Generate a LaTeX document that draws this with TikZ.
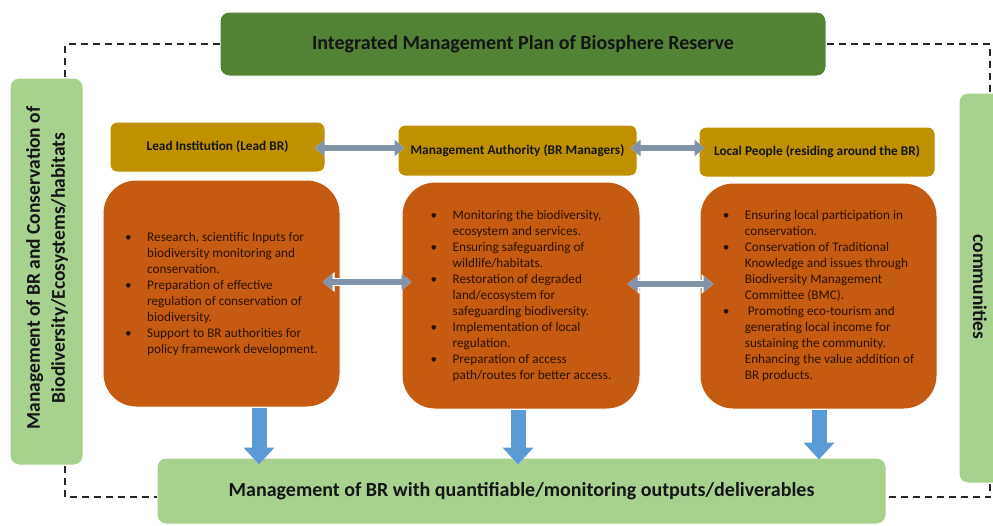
\documentclass[tikz,border=0pt]{standalone}
\usepackage{fontspec}
\setmainfont{Carlito}
\usetikzlibrary{arrows.meta}
\definecolor{titlegreen}{HTML}{548235}
\definecolor{lightgreen}{HTML}{A9D18E}
\definecolor{goldhead}{HTML}{BF9000}
\definecolor{rust}{HTML}{C55A11}
\definecolor{arrowgray}{HTML}{8093A8}
\definecolor{arrowblue}{HTML}{5B9BD5}
\definecolor{txtdark}{HTML}{2B1500}
\definecolor{txtblack}{HTML}{151515}
\newcommand{\bul}{\makebox[22pt][l]{\textbullet}}
\newcommand{\ind}{\hspace*{22pt}}
\begin{document}
\begin{tikzpicture}[x=1pt,y=-1pt,
  box/.style={draw=white, line width=1pt, inner sep=0pt, text=txtblack},
  titlebox/.style={box, fill=titlegreen, rounded corners=9pt, font=\fontsize{20}{24}\selectfont\bfseries},
  sidebox/.style={box, fill=lightgreen, rounded corners=9pt},
  sidefont/.style={font=\fontsize{19.5}{25}\selectfont\bfseries, align=center, text=txtblack},
  headbox/.style={box, fill=goldhead, rounded corners=7pt, font=\fontsize{13.3}{16}\selectfont\bfseries},
  orangebox/.style={box, fill=rust, rounded corners=33pt, text=txtdark, align=left,
     font=\fontsize{13.2}{16}\selectfont},
  dashline/.style={draw=black!85, line width=1.8pt, dash pattern=on 7pt off 5pt},
  grayarr/.style={draw=arrowgray, line width=6pt,
     {Triangle[width=16pt,length=10pt]}-{Triangle[width=16pt,length=10pt]},
     preaction={draw=white, line width=8pt, {Triangle[width=19pt,length=12pt]}-{Triangle[width=19pt,length=12pt]}}},
  bluearr/.style={draw=arrowblue, line width=15pt, -{Triangle[width=30pt,length=17pt]},
     preaction={draw=white, line width=17pt, -{Triangle[width=34pt,length=19pt]}}}
]
\useasboundingbox (0,0) rectangle (993,525);

% main boxes
\node[titlebox, minimum width=606pt, minimum height=64pt] (title) at (523,44)
  {Integrated Management Plan of Biosphere Reserve};
\node[sidebox, minimum width=73pt, minimum height=387pt] (leftbox) at (46.5,271.5) {};
\node[sidefont, rotate=90] (lefttext) at (47,268)
  {Management of BR and Conservation of\\Biodiversity/Ecosystems/habitats};
\node[sidebox, minimum width=46pt, minimum height=390pt] (rightbox) at (982,288) {};
\node[sidefont, rotate=-90] (righttext) at (980,287) {communities};
\node[sidebox, font=\fontsize{20}{24}\selectfont\bfseries, text=txtblack,
  minimum width=729pt, minimum height=66pt] (bottom) at (521.5,491)
  {Management of BR with quantifiable/monitoring outputs/deliverables};

% dashed frame
\coordinate (dTL) at (65,44);
\coordinate (dTR) at (990,44);
\coordinate (dBL) at (65,497);
\coordinate (dBR) at (990,497);
\draw[dashline] (title.west) -- (dTL) -- (dTL |- leftbox.north);
\draw[dashline] (title.east) -- (dTR) -- (dTR |- rightbox.north);
\draw[dashline] (dBL |- leftbox.south) -- (dBL) -- (bottom.west |- dBL);
\draw[dashline] (dBR |- rightbox.south) -- (dBR) -- (bottom.east |- dBR);

% header boxes
\node[headbox, minimum width=215pt, minimum height=50pt] (lead) at (217.5,147) {Lead Institution (Lead BR)};
\node[headbox, minimum width=239pt, minimum height=51pt] (mgmt) at (517.5,150.5) {Management Authority (BR Managers)};
\node[headbox, minimum width=236pt, minimum height=50pt] (local) at (817,152) {Local People (residing around the BR)};

% orange boxes
\node[orangebox, minimum width=237pt, minimum height=227pt] (lo) at (221.5,293.5) {%
\bul Research, scientific Inputs for\\
\ind biodiversity monitoring and\\
\ind conservation.\\
\bul Preparation of effective\\
\ind regulation of conservation of\\
\ind biodiversity.\\
\bul Support to BR authorities for\\
\ind policy framework development.};
\node[orangebox, minimum width=238pt, minimum height=227pt] (mo) at (521,295.5) {%
\bul Monitoring the biodiversity,\\
\ind ecosystem and services.\\
\bul Ensuring safeguarding of\\
\ind wildlife/habitats.\\
\bul Restoration of degraded\\
\ind land/ecosystem for\\
\ind safeguarding biodiversity.\\
\bul Implementation of local\\
\ind regulation.\\
\bul Preparation of access\\
\ind path/routes for better access.};
\node[orangebox, minimum width=237pt, minimum height=226pt] (ro) at (818.5,296) {%
\bul Ensuring local participation in\\
\ind conservation.\\
\bul Conservation of Traditional\\
\ind Knowledge and issues through\\
\ind Biodiversity Management\\
\ind Committee (BMC).\\
\bul \hspace*{3pt}Promoting eco-tourism and\\
\ind generating local income for\\
\ind sustaining the community.\\
\ind Enhancing the value addition of\\
\ind BR products.};

% gray double arrows
\draw[grayarr] ([xshift=-11pt]lead.east |- 0,148) -- ([xshift=7pt]mgmt.west |- 0,148);
\draw[grayarr] ([xshift=-7pt]mgmt.east |- 0,148) -- ([xshift=6pt]local.west |- 0,148);
\draw[grayarr] ([xshift=-18pt]lo.east |- 0,282) -- ([xshift=10pt]mo.west |- 0,282);
\draw[grayarr] ([xshift=-13pt]mo.east |- 0,284) -- ([xshift=14pt]ro.west |- 0,284);

% blue arrows
\draw[bluearr] ([xshift=37.5pt]lo.south) -- ([xshift=37.5pt,yshift=-7pt]lo.south |- bottom.north);
\draw[bluearr] ([xshift=-3pt]mo.south) -- ([xshift=-3pt,yshift=-7pt]mo.south |- bottom.north);
\draw[bluearr] ([xshift=0.5pt]ro.south) -- ([xshift=0.5pt,yshift=-2pt]ro.south |- bottom.north);
\end{tikzpicture}
\end{document}
